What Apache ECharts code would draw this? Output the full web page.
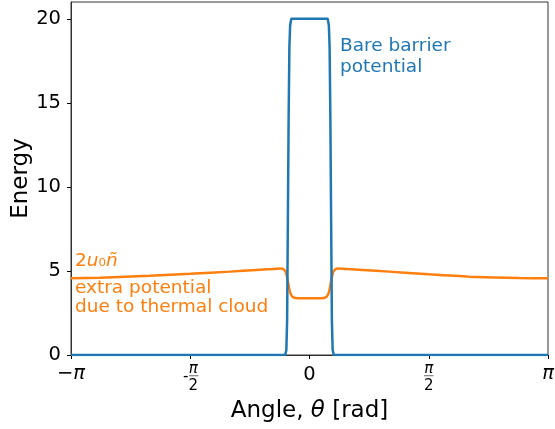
<!DOCTYPE html>
<html>
<head>
<meta charset="utf-8">
<script src="https://cdn.jsdelivr.net/npm/echarts@6/dist/echarts.min.js"></script>
<style>html,body{margin:0;padding:0;background:#fff}#c{width:555px;height:429px}</style>
</head>
<body>
<div id="c"></div>
<script>
// Bare barrier potential: [theta (rad), energy]
var barrierTheta = [-3.1416, -0.32, -0.305, -0.295, -0.285, -0.275, -0.265, -0.255, -0.24, 0.24, 0.255, 0.265, 0.275, 0.285, 0.295, 0.305, 0.32, 3.1416];
var barrierEnergy = [0, 0, 0.3, 2, 8, 14, 18.3, 19.6, 20, 20, 19.6, 18.3, 14, 8, 2, 0.3, 0, 0];

// Extra potential due to thermal cloud (2 u0 n~)
var thermalTheta = [-3.1416, -2.76, -2.1, -1.57, -1.05, -0.7, -0.5, -0.38, -0.34, -0.31, -0.285, -0.265, -0.245, -0.22, -0.19, -0.1, 0, 0.1, 0.19, 0.22, 0.245, 0.265, 0.285, 0.31, 0.34, 0.38, 0.5, 0.7, 1.05, 1.57, 2.1, 2.76, 3.1416];
var thermalEnergy = [4.56, 4.6, 4.72, 4.83, 4.96, 5.06, 5.11, 5.14, 5.1, 4.9, 4.4, 3.9, 3.6, 3.45, 3.39, 3.37, 3.37, 3.37, 3.39, 3.45, 3.6, 3.9, 4.4, 4.9, 5.1, 5.14, 5.11, 5.06, 4.96, 4.8, 4.66, 4.58, 4.56];

// Tick labels
var xTickLabels = ['{m|−}{pi|π}', '{fn|π}\n{dash|-}{bar|─}\n{fd|2}', '{z|0}', '{fnp|π}\n{barp|─}\n{fdp|2}', '{pi|π}'];
var yTicks = [0, 5, 10, 15, 20];

var FONT = '"DejaVu Sans", "Liberation Sans", sans-serif';
var AX = '#333';
var BLUE = '#1f77b4', ORANGE = '#ff7f0e';

function zip(a, b) { return a.map(function (v, i) { return [v, b[i]]; }); }

var chart = echarts.init(document.getElementById('c'), null, { renderer: 'canvas' });
chart.setOption({
  animation: false,
  backgroundColor: '#fff',
  grid: { left: 71, right: 7, top: 2, bottom: 74, containLabel: false, outerBoundsMode: 'none',
    show: true, borderColor: AX, borderWidth: 1, backgroundColor: 'transparent' },
  xAxis: {
    type: 'value', min: -Math.PI, max: Math.PI, interval: Math.PI / 2,
    name: 'Angle, {i|θ} [rad]', nameLocation: 'middle', nameGap: 44.5, nameMoveOverlap: false,
    nameTextStyle: { fontFamily: FONT, fontSize: 23, color: '#000',
      rich: { i: { fontFamily: FONT, fontSize: 23, fontStyle: 'italic', color: '#000' } } },
    splitLine: { show: false },
    axisLine: { show: true, onZero: false, lineStyle: { color: AX, width: 1 } },
    axisTick: { show: true, inside: false, length: 4, lineStyle: { color: '#000', width: 1 } },
    axisLabel: {
      margin: 8.5, color: '#000', fontFamily: FONT, fontSize: 19, verticalAlign: 'top',
      showMinLabel: true, showMaxLabel: true, hideOverlap: false,
      formatter: function (v) {
        var k = Math.round(v / (Math.PI / 2)) + 2;
        return xTickLabels[k] || '';
      },
      rich: {
        m: { fontFamily: FONT, fontSize: 19.5, color: '#000', lineHeight: 20 },
        pi: { fontFamily: FONT, fontSize: 19.5, fontStyle: 'italic', color: '#000', lineHeight: 20 },
        z: { fontFamily: FONT, fontSize: 19.5, color: '#000', lineHeight: 23 },
        fn: { fontFamily: FONT, fontSize: 15, fontStyle: 'italic', color: '#000', lineHeight: 12, padding: [0, 0, 0, 6] },
        fd: { fontFamily: FONT, fontSize: 15, color: '#000', lineHeight: 14, padding: [0, 0, 0, 6] },
        fnp: { fontFamily: FONT, fontSize: 15, fontStyle: 'italic', color: '#000', lineHeight: 12 },
        fdp: { fontFamily: FONT, fontSize: 15, color: '#000', lineHeight: 14 },
        dash: { fontFamily: FONT, fontSize: 15, color: '#000', lineHeight: 4, width: 7 },
        bar: { fontFamily: FONT, fontSize: 15, color: '#888', lineHeight: 4 },
        barp: { fontFamily: FONT, fontSize: 15, color: '#888', lineHeight: 4 }
      }
    }
  },
  yAxis: {
    type: 'value', min: 0, max: 21, interval: 5,
    name: 'Energy', nameLocation: 'middle', nameGap: 38, nameMoveOverlap: false,
    nameTextStyle: { fontFamily: FONT, fontSize: 23, color: '#000' },
    splitLine: { show: false },
    axisLine: { show: true, onZero: false, lineStyle: { color: AX, width: 1 } },
    axisTick: { show: true, inside: false, length: 4, lineStyle: { color: '#000', width: 1 } },
    axisLabel: {
      margin: 10, color: '#000', fontFamily: FONT, fontSize: 19.5, showMaxLabel: false,
      formatter: function (v) { return yTicks.indexOf(v) >= 0 ? String(v) : ''; }
    }
  },
  series: [
    { type: 'line', data: zip(barrierTheta, barrierEnergy), showSymbol: false, symbol: 'none',
      lineStyle: { color: BLUE, width: 2.5 }, itemStyle: { color: BLUE }, z: 3 },
    { type: 'line', data: zip(thermalTheta, thermalEnergy), showSymbol: false, symbol: 'none', smooth: 0.2,
      lineStyle: { color: ORANGE, width: 2.5 }, itemStyle: { color: ORANGE }, z: 2 }
  ],
  graphic: [
    { type: 'text', left: 340, top: 35, z: 10,
      style: { text: 'Bare barrier\npotential', fill: BLUE, font: '18.5px "DejaVu Sans"', lineHeight: 21.6 } },
    { type: 'text', left: 75, top: 252, z: 10,
      style: { text: '2{i|u}₀{i|ñ}', fill: ORANGE, font: '18.5px "DejaVu Sans"',
        rich: { i: { fill: ORANGE, fontFamily: FONT, fontSize: 18.5, fontStyle: 'italic' } } } },
    { type: 'text', left: 75, top: 279, z: 10,
      style: { text: 'extra potential\ndue to thermal cloud', fill: ORANGE, font: '18.5px "DejaVu Sans"', lineHeight: 18.4 } }
  ]
});
</script>
</body>
</html>
